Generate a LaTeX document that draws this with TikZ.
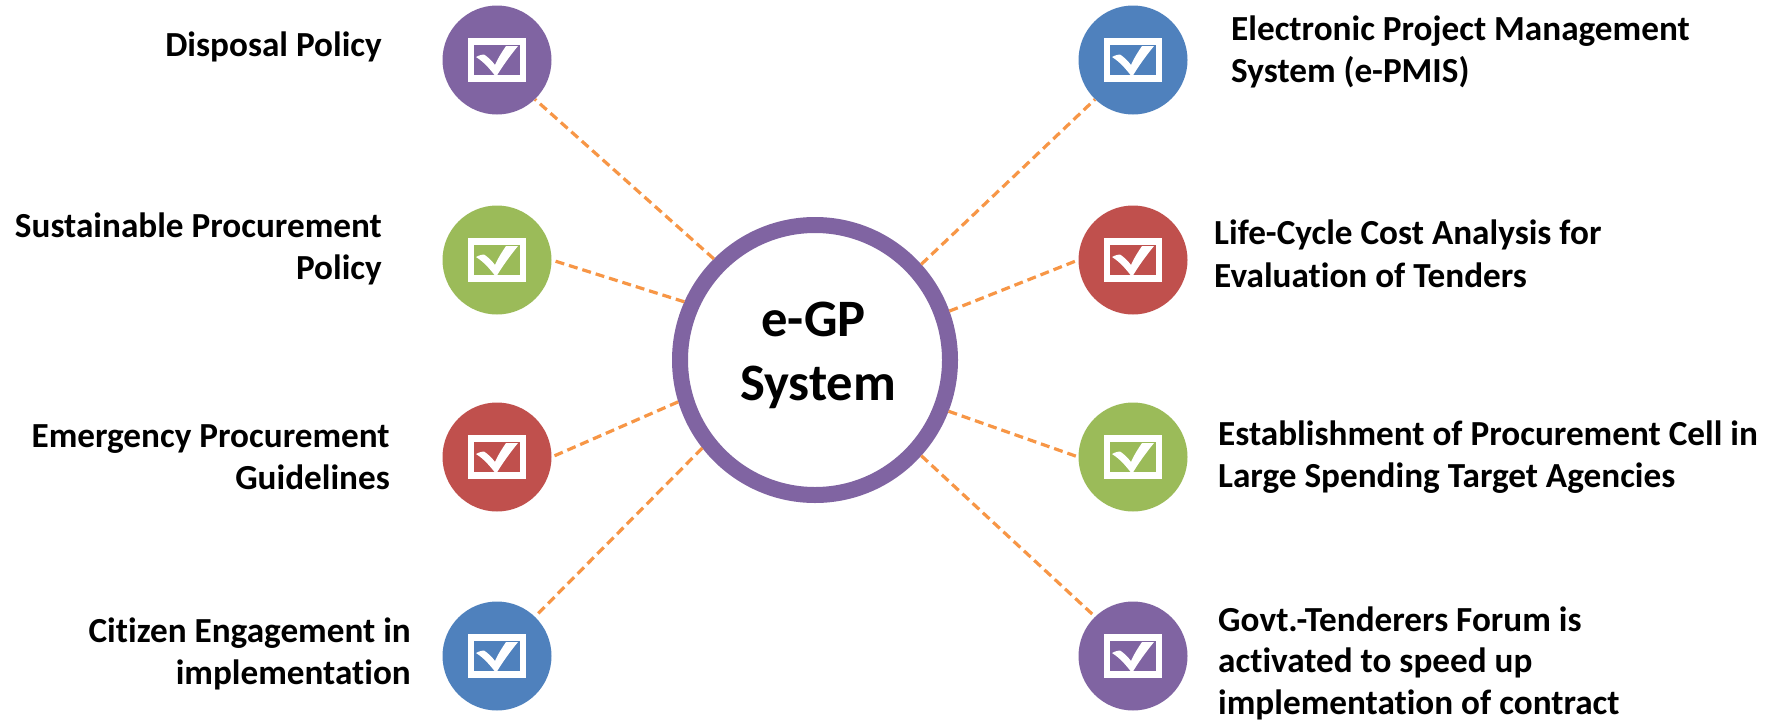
\documentclass[tikz,border=0pt]{standalone}
\usepackage{fontspec}
\setmainfont[Ligatures=NoCommon]{Carlito}
\definecolor{polpurple}{HTML}{8064A2}
\definecolor{polgreen}{HTML}{9BBB59}
\definecolor{polred}{HTML}{C0504D}
\definecolor{polblue}{HTML}{4F81BD}
\definecolor{linkorange}{HTML}{F79646}
\tikzset{
	polcircle/.style={circle, inner sep=0pt, minimum size=109pt},
	poltext/.style={font=\fontsize{35.2}{42.5}\selectfont\bfseries, inner sep=0pt},
	link/.style={draw=linkorange, line width=3.2pt, dash pattern=on 9pt off 5pt},
	chkmark/.pic={
		\draw[white, line width=6.5pt] (-26,-18.5) rectangle (26,18.5);
		\fill[white] (-21,-3) .. controls (-17,-5) and (-15,-5.5) .. (-13,-5.5) .. controls (-9,-3) and (-5,1) .. (-2,5) .. controls (1,-2) and (5,-8) .. (9,-14) -- (21,-14) .. controls (12,-3) and (5,7) .. (-1,17) .. controls (-7,9) and (-13,2) .. (-21,-3) -- cycle;
	}
}
\begin{document}
\begin{tikzpicture}[x=1pt, y=-1pt]
	\useasboundingbox (0,0) rectangle (1779,720);

	\node[circle, draw=polpurple, fill=white, line width=16pt, inner sep=0pt, minimum size=270pt] (hub) at (815,360) {};
	\node[font=\fontsize{52.6}{64}\selectfont\bfseries, align=center, inner sep=0pt] (hubtext) at (818,355) {e-GP\hspace*{9pt}\\System};

	\node[polcircle, fill=polpurple] (pol1) at (497,60) {};
	\node[polcircle, fill=polgreen] (pol2) at (497,260) {};
	\node[polcircle, fill=polred] (pol3) at (497,457) {};
	\node[polcircle, fill=polblue] (pol4) at (497,656) {};
	\node[polcircle, fill=polblue] (pol5) at (1133,60) {};
	\node[polcircle, fill=polred] (pol6) at (1133,260) {};
	\node[polcircle, fill=polgreen] (pol7) at (1133,457) {};
	\node[polcircle, fill=polpurple] (pol8) at (1133,656) {};

	\pic at (pol1) {chkmark};
	\pic at (pol2) {chkmark};
	\pic at (pol3) {chkmark};
	\pic at (pol4) {chkmark};
	\pic at (pol5) {chkmark};
	\pic at (pol6) {chkmark};
	\pic at (pol7) {chkmark};
	\pic at (pol8) {chkmark};

	\node[poltext, anchor=east, align=right] (text1) at (382,47) {Disposal Policy};
	\node[poltext, anchor=east, align=right] (text2) at (382,249) {Sustainable Procurement\\Policy};
	\node[poltext, anchor=east, align=right] (text3) at (390,457) {Emergency Procurement\\Guidelines};
	\node[poltext, anchor=east, align=right] (text4) at (411,654) {Citizen Engagement in\\implementation};
	\node[poltext, anchor=west, align=left] (text5) at (1231,52) {Electronic Project Management\\System (e-PMIS)};
	\node[poltext, anchor=west, align=left] (text6) at (1214,254) {Life-Cycle Cost Analysis for\\Evaluation of Tenders};
	\node[poltext, anchor=west, align=left] (text7) at (1218,457) {Establishment of Procurement Cell in\\Large Spending Target Agencies};
	\node[poltext, anchor=west, align=left, font=\fontsize{35.2}{41.5}\selectfont\bfseries] (text8) at (1218,663) {Govt.-Tenderers Forum is\\activated to speed up\\implementation of contract};

	\draw[link] (hub.135) -- (pol1.314);
	\draw[link] (hub.156) -- (pol2.0);
	\draw[link] (hub.197) -- (pol3.0);
	\draw[link] (hub.218) -- (pol4.46);
	\draw[link] (hub.42) -- (pol5.226);
	\draw[link] (hub.20) -- (pol6.180);
	\draw[link] (hub.339) -- (pol7.180);
	\draw[link] (hub.318) -- (pol8.134);
\end{tikzpicture}
\end{document}
